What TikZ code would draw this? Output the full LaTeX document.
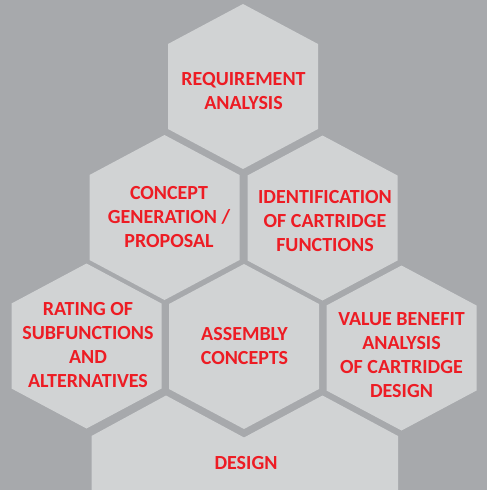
\documentclass[tikz,border=0pt]{standalone}
\usepackage{fontspec}
\setmainfont{Carlito}
\definecolor{bggray}{HTML}{A7A9AC}
\definecolor{hexgray}{HTML}{D1D3D4}
\definecolor{hexred}{HTML}{ED1C24}
\begin{document}
\begin{tikzpicture}[x=0.75pt,y=-0.75pt,
  hexfill/.style={fill=hexgray},
  lbl/.style={text=hexred,font=\fontsize{15}{18}\selectfont\bfseries,align=center,inner sep=0pt}]
\fill[bggray] (0,0) rectangle (487,490);
\useasboundingbox (0,0) rectangle (487,490);
\newcommand{\hexagonat}[2]{\fill[hexfill] (#1,#2) ++(0,-82.5) -- ++(75,40) -- ++(0,85) -- ++(-75,40) -- ++(-75,-40) -- ++(0,-85) -- cycle;}
% hexagons
\hexagonat{243}{86.5}
\hexagonat{164.5}{217.5}
\hexagonat{322.5}{218}
\hexagonat{86.5}{346}
\hexagonat{244}{346.5}
\hexagonat{401.5}{348}
% design base
\fill[hexfill] (91.5,490) -- (91.5,436) -- (166,395.5) -- (244,437.5) -- (322.5,395.5) -- (398,436) -- (398,490) -- cycle;
% labels
\node[lbl] (req) at (243.5,91.5) {REQUIREMENT\\ANALYSIS};
\node[lbl] (con) at (169,217.5) {CONCEPT\\GENERATION /\\PROPOSAL};
\node[lbl] (ide) at (325,221) {IDENTIFICATION\\OF CARTRIDGE\\FUNCTIONS};
\node[lbl] (rat) at (88,345.5) {RATING OF\\SUBFUNCTIONS\\AND\\ALTERNATIVES};
\node[lbl] (ass) at (244.5,346.5) {ASSEMBLY\\CONCEPTS};
\node[lbl] (val) at (401.5,355.5) {VALUE BENEFIT\\ANALYSIS\\OF CARTRIDGE\\DESIGN};
\node[lbl] (des) at (246,463.5) {DESIGN};
\end{tikzpicture}
\end{document}
